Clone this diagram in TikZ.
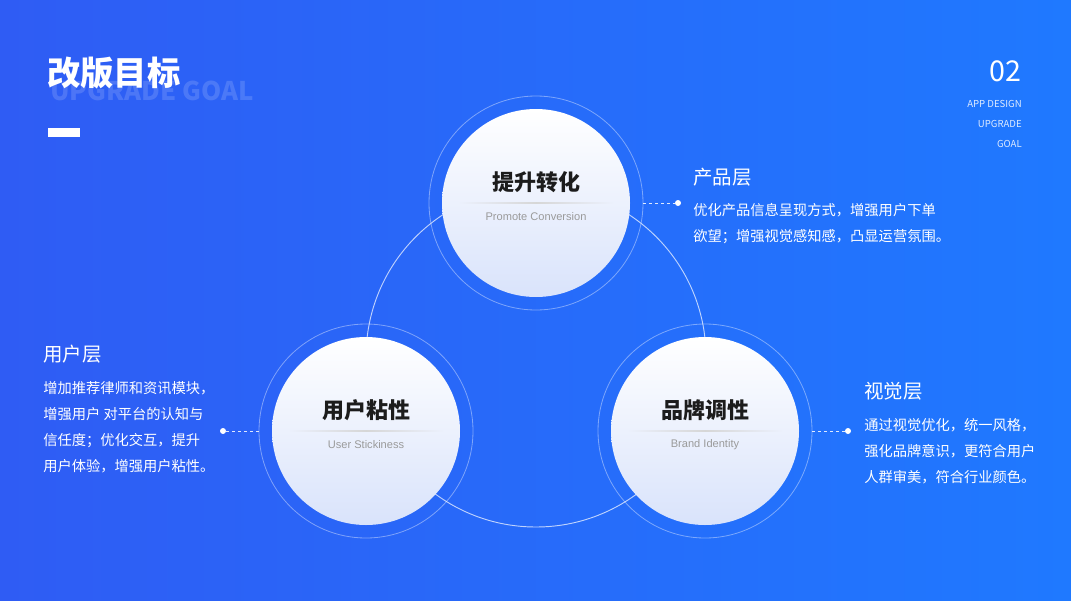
\documentclass[tikz,border=0pt]{standalone}
\usepackage{fontspec}
\setmainfont{Noto Sans CJK SC}
\newfontfamily\latinsub{Liberation Sans}
\usepackage{tikz}
\usetikzlibrary{calc, positioning}
\definecolor{bgleft}{HTML}{2F5CF4}
\definecolor{bgright}{HTML}{1F79FF}
\definecolor{discbot}{HTML}{D9E3FB}
\definecolor{ink}{HTML}{1C1C1C}
\definecolor{subgrey}{HTML}{9A9A9A}
\tikzstyle{ring}=[circle,draw=white,draw opacity=0.4,line width=0.6pt,minimum size=160.5pt,inner sep=0pt]
\tikzstyle{disc}=[circle,minimum size=141pt,inner sep=0pt,top color=white,bottom color=discbot]
\tikzstyle{disctitle}=[font=\fontsize{16.5}{18}\selectfont\bfseries,text=ink,inner sep=0pt]
\tikzstyle{discsub}=[font=\latinsub\fontsize{8.3}{10}\selectfont,text=subgrey,inner sep=0pt]
\tikzstyle{layerhead}=[font=\fontsize{14.6}{16}\selectfont,text=white,anchor=base west,inner sep=0pt]
\tikzstyle{layerbody}=[font=\fontsize{10.7}{19.5}\selectfont,text=white,anchor=north west,align=left,inner sep=0pt]
\tikzstyle{dot}=[circle,fill=white,minimum size=4.5pt,inner sep=0pt]
\tikzstyle{lead}=[white,line width=0.6pt,dash pattern=on 2.25pt off 2.25pt,opacity=0.85]
\tikzstyle{tag}=[font=\fontsize{7.2}{8}\selectfont,text=white,text opacity=0.85,anchor=base east,inner sep=0pt]

\begin{document}
\begin{tikzpicture}[x=0.75pt,y=-0.75pt]
  \useasboundingbox (0,0) rectangle (1071,600);
  \shade[left color=bgleft,right color=bgright] (0,0) rectangle (1071,600);

  % heading
  \node[font=\fontsize{19.3}{22}\selectfont\bfseries,text=white,text opacity=0.15,
        anchor=base west,inner sep=0pt] (engtitle) at (50,100) {UPGRADE GOAL};
  \node[font=\fontsize{25}{28}\selectfont\bfseries,text=white,
        anchor=base west,inner sep=0pt] (title) at (47,85) {改版目标};
  \fill[white] (48,128) rectangle (80,137);
  \node[font=\fontsize{21.5}{24}\selectfont,text=white,anchor=base east,inner sep=0pt] (pageno) at (1022,81) {02};
  \node[tag] (tag1) at (1022,107) {APP DESIGN};
  \node[tag] (tag2) at (1022,127) {UPGRADE};
  \node[tag] (tag3) at (1022,147) {GOAL};

  % link circle behind the three discs
  \draw[white,opacity=0.7,line width=0.7pt] (536,357) circle[radius=127.5pt];

  \node[ring] (ringT) at (536,203) {};
  \node[ring] (ringL) at (366,431) {};
  \node[ring] (ringR) at (705,431) {};
  \node[disc] (discT) at (536,203) {};
  \node[disc] (discL) at (366,431) {};
  \node[disc] (discR) at (705,431) {};

  \foreach \d in {discT,discL,discR}
    \shade[left color=discbot!50,right color=discbot!50,middle color=black!16]
      ($(\d)+(-78,-0.6)$) rectangle ($(\d)+(78,0.6)$);

  \node[disctitle] (titT) at ($(discT)+(0,-21)$) {提升转化};
  \node[discsub] (subT) at ($(discT)+(0,14)$) {Promote Conversion};
  \node[disctitle] (titL) at ($(discL)+(0,-21)$) {用户粘性};
  \node[discsub] (subL) at ($(discL)+(0,14)$) {User Stickiness};
  \node[disctitle] (titR) at ($(discR)+(0,-21)$) {品牌调性};
  \node[discsub] (subR) at ($(discR)+(0,14)$) {Brand Identity};

  % layer notes
  \node[dot] (dotT) at (678,203) {};
  \node[dot] (dotL) at (223,431) {};
  \node[dot] (dotR) at (848,431) {};
  \draw[lead] (ringT.east) -- (dotT);
  \draw[lead] (dotL) -- (ringL.west);
  \draw[lead] (ringR.east) -- (dotR);

  \node[layerhead] (headT) at (693,184) {产品层};
  \node[layerbody] (bodyT) at (693,203) {优化产品信息呈现方式，增强用户下单\\欲望；增强视觉感知感，凸显运营氛围。};
  \node[layerhead] (headL) at (43,361) {用户层};
  \node[layerbody] (bodyL) at (43,381) {增加推荐律师和资讯模块，\\增强用户 对平台的认知与\\信任度；优化交互，提升\\用户体验，增强用户粘性。};
  \node[layerhead] (headR) at (864,398) {视觉层};
  \node[layerbody] (bodyR) at (864,418) {通过视觉优化，统一风格，\\强化品牌意识，更符合用户\\人群审美，符合行业颜色。};
\end{tikzpicture}
\end{document}
